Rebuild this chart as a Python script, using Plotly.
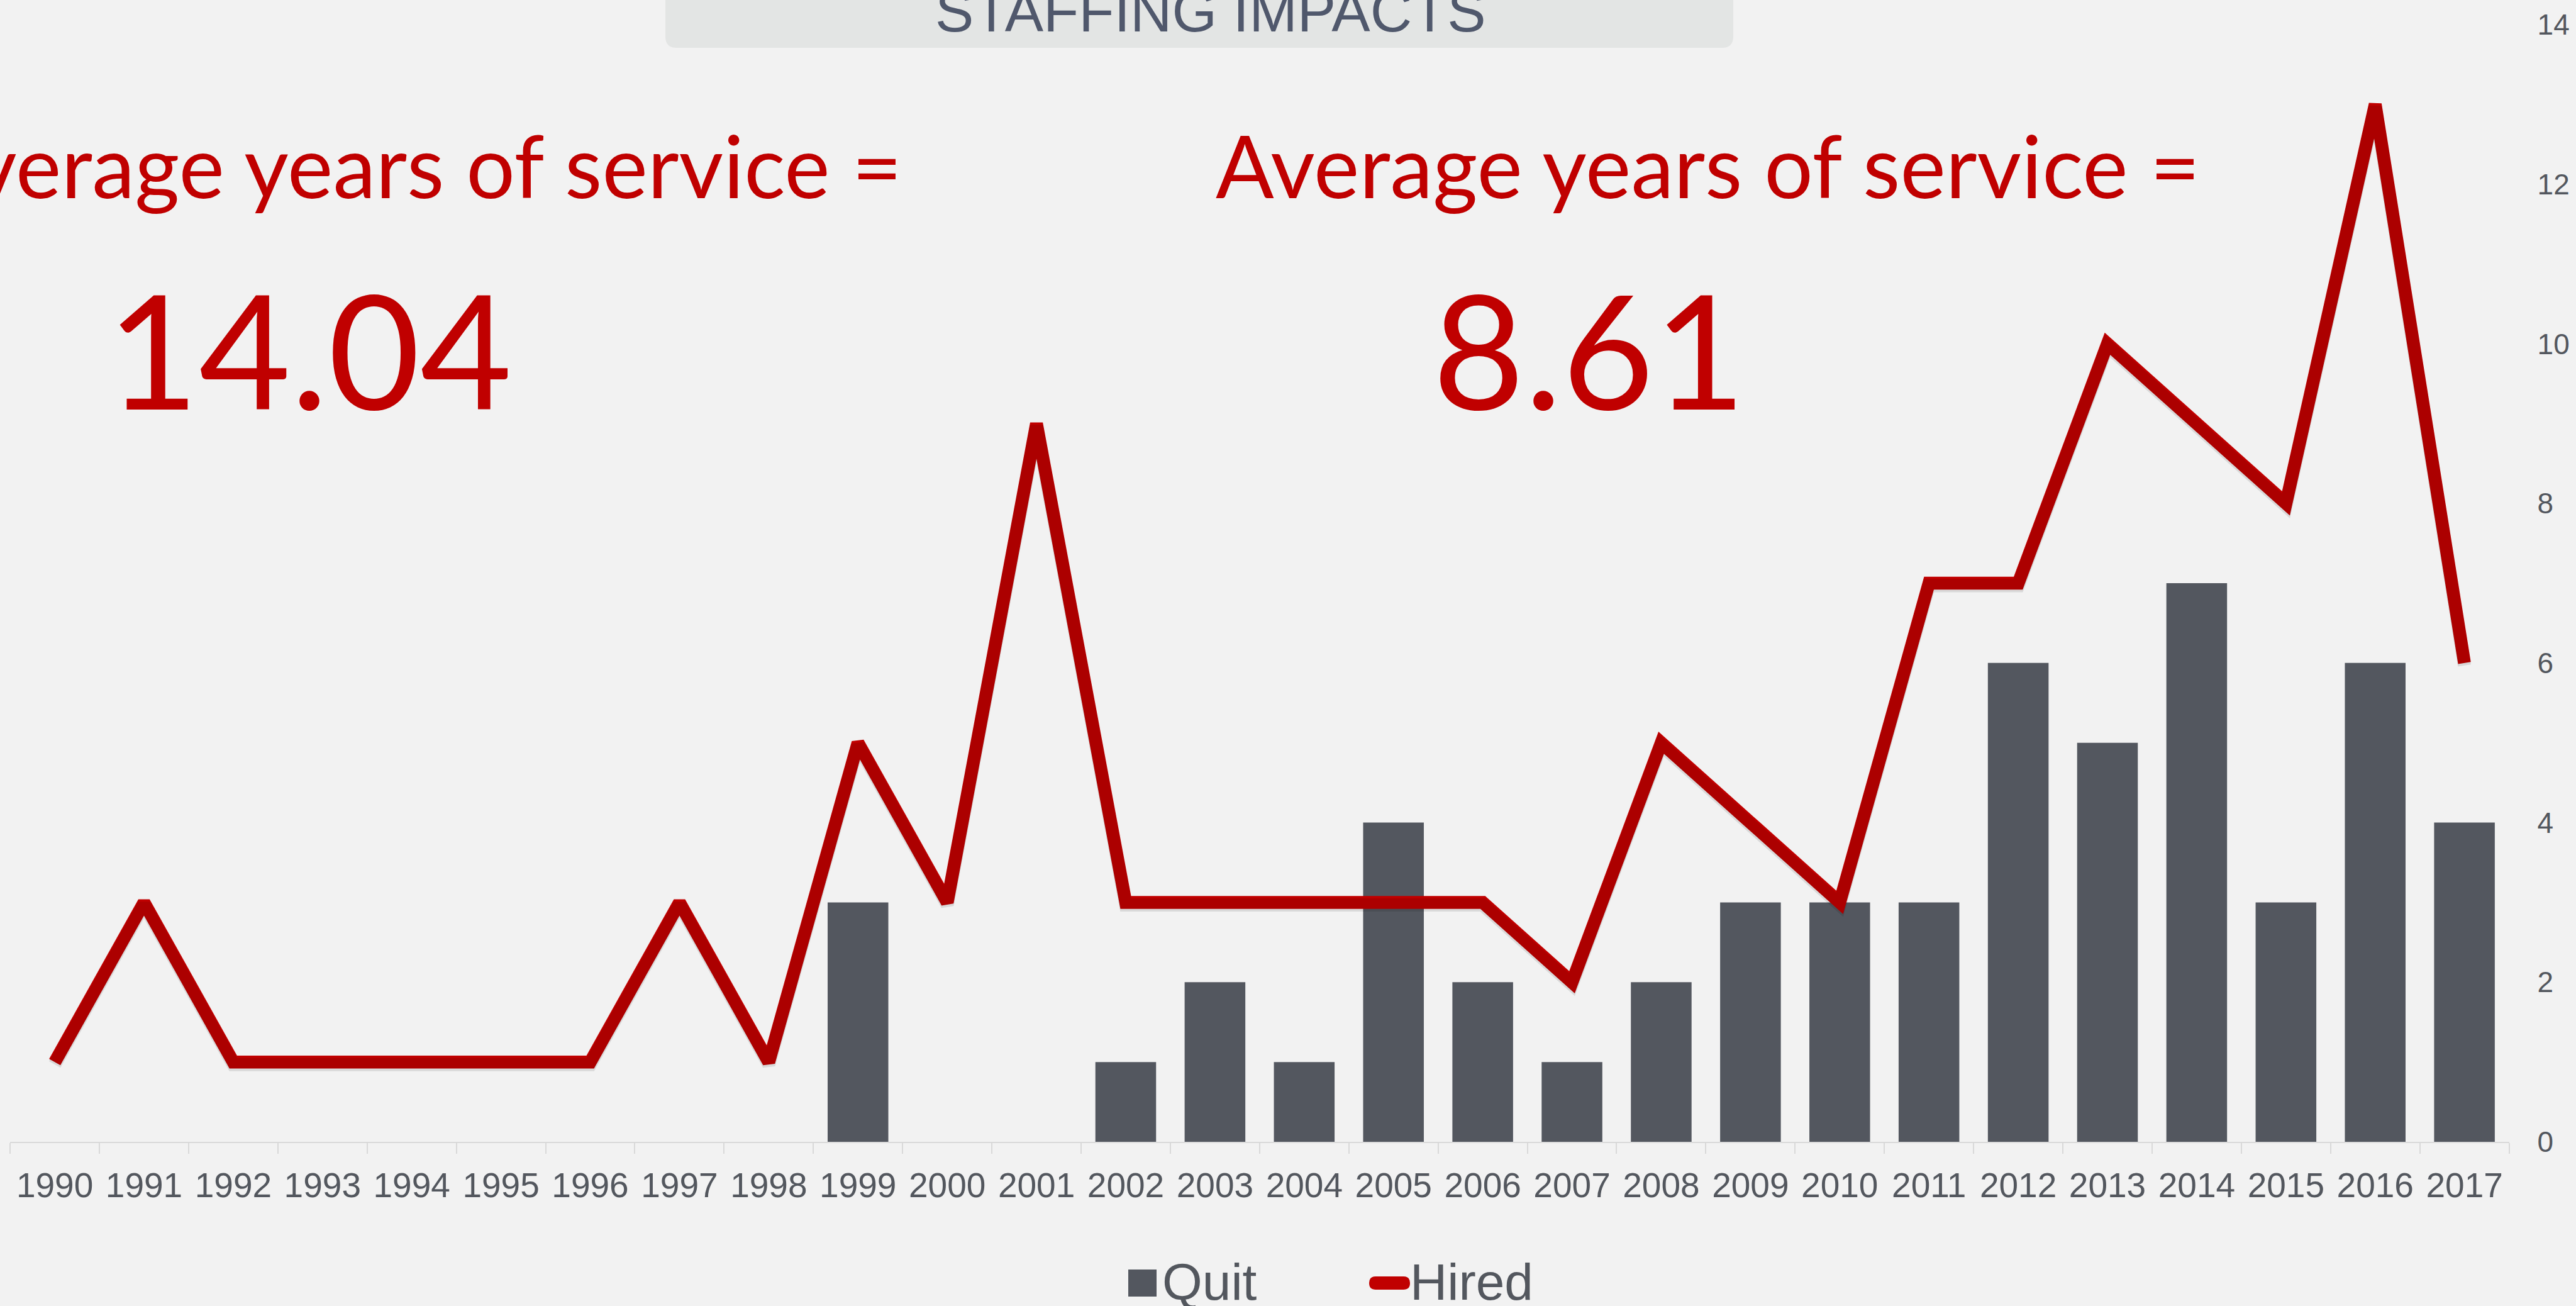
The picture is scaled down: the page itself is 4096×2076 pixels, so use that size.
import plotly.graph_objects as go

# Yearly staffing data
years = [str(y) for y in range(1990, 2018)]
quit_counts = [0, 0, 0, 0, 0, 0, 0, 0, 0, 3, 0, 0, 1, 2, 1, 4, 2, 1, 2, 3, 3, 3, 6, 5, 7, 3, 6, 4]
hired_counts = [1, 3, 1, 1, 1, 1, 1, 3, 1, 5, 3, 9, 3, 3, 3, 3, 3, 2, 5, 4, 3, 7, 7, 10, 9, 8, 13, 6]
y_ticks = [0, 2, 4, 6, 8, 10, 12, 14]

avg_before_label = "Average years of service ="
avg_before_value = "14.04"
avg_after_label = "Average years of service ="
avg_after_value = "8.61"
title_text = "STAFFING IMPACTS"

W, H = 4096, 2076
BG = "#f2f2f2"
BAR = "#53575f"
RED = "#c00000"
AXIS_TXT = "#53575e"
GRID = "#d9d9d9"
SANS = "Liberation Sans, Arial, sans-serif"
HUMANIST = "Lato, Open Sans, sans-serif"

Y_TOP, Y_BOT = 39, 1815          # plot area top / bottom in pixels
UNIT = (Y_BOT - Y_TOP) / 14.0     # pixels per unit on the value axis
SHADOW_SHIFT = 4 / UNIT           # drop shadow offset, in value units


def px(x):
    return x / W


def py(y):
    return 1 - y / H


fig = go.Figure()
fig.add_trace(go.Bar(x=years, y=quit_counts, name="Quit", marker=dict(color=BAR, line=dict(width=0)),
                     showlegend=False))
# soft drop shadow under the hiring line, drawn on a slightly shifted twin axis
fig.add_trace(go.Scatter(x=years, y=hired_counts, mode="lines", yaxis="y2", hoverinfo="skip",
                         line=dict(color="rgba(0,0,0,0.10)", width=21), showlegend=False))
fig.add_trace(go.Scatter(x=years, y=hired_counts, name="Hired", mode="lines",
                         line=dict(color=RED, width=20.5), showlegend=False))

shapes = []
annotations = []

# Rounded title tab hanging from the top edge
bx0, bx1, by1, r = 1058, 2756, 76, 18
path = (f"M {px(bx0)},{py(-20)} L {px(bx0)},{py(by1 - r)} "
        f"Q {px(bx0)},{py(by1)} {px(bx0 + r)},{py(by1)} "
        f"L {px(bx1 - r)},{py(by1)} Q {px(bx1)},{py(by1)} {px(bx1)},{py(by1 - r)} "
        f"L {px(bx1)},{py(-20)} Z")
shapes.append(dict(type="path", xref="paper", yref="paper", path=path,
                   fillcolor="#e3e5e4", line=dict(width=0), layer="below"))
annotations.append(dict(text=title_text, xref="paper", yref="paper", x=px(1925), y=py(18),
                        xanchor="center", yanchor="middle", showarrow=False,
                        font=dict(family=SANS, size=92, color="#50586c")))

# Average service callouts
annotations += [
    dict(text=avg_before_label, xref="paper", yref="paper", x=px(1436), y=py(262),
         xanchor="right", yanchor="middle", showarrow=False,
         font=dict(family=HUMANIST, size=137, color=RED)),
    dict(text=avg_before_value, xref="paper", yref="paper", x=px(492), y=py(553),
         xanchor="center", yanchor="middle", showarrow=False,
         font=dict(family=HUMANIST, size=252, color=RED)),
    dict(text=avg_after_label, xref="paper", yref="paper", x=px(1931), y=py(262),
         xanchor="left", yanchor="middle", showarrow=False,
         font=dict(family=HUMANIST, size=137, color=RED)),
    dict(text=avg_after_value, xref="paper", yref="paper", x=px(2527), y=py(553),
         xanchor="center", yanchor="middle", showarrow=False,
         font=dict(family=HUMANIST, size=252, color=RED)),
]

# Legend drawn at the bottom centre
shapes.append(dict(type="rect", xref="paper", yref="paper",
                   x0=px(1794), x1=px(1839), y0=py(2061), y1=py(2018),
                   fillcolor=BAR, line=dict(width=0)))
lr = 10.5
lx0, lx1, lyc = 2177, 2242, 2039.5
pill = (f"M {px(lx0 + lr)},{py(lyc - lr)} L {px(lx1 - lr)},{py(lyc - lr)} "
        f"Q {px(lx1)},{py(lyc - lr)} {px(lx1)},{py(lyc)} Q {px(lx1)},{py(lyc + lr)} {px(lx1 - lr)},{py(lyc + lr)} "
        f"L {px(lx0 + lr)},{py(lyc + lr)} Q {px(lx0)},{py(lyc + lr)} {px(lx0)},{py(lyc)} "
        f"Q {px(lx0)},{py(lyc - lr)} {px(lx0 + lr)},{py(lyc - lr)} Z")
shapes.append(dict(type="path", xref="paper", yref="paper", path=pill,
                   fillcolor=RED, line=dict(width=0)))
annotations += [
    dict(text="Quit", xref="paper", yref="paper", x=px(1846), y=py(2037),
         xanchor="left", yanchor="middle", showarrow=False,
         font=dict(family=SANS, size=82, color=AXIS_TXT)),
    dict(text="Hired", xref="paper", yref="paper", x=px(2240), y=py(2037),
         xanchor="left", yanchor="middle", showarrow=False,
         font=dict(family=SANS, size=82, color=AXIS_TXT)),
]

fig.update_layout(
    width=W, height=H,
    margin=dict(l=0, r=0, t=0, b=0, autoexpand=False),
    paper_bgcolor=BG, plot_bgcolor=BG,
    bargap=0.32,
    shapes=shapes, annotations=annotations,
    xaxis=dict(type="category", domain=[px(16.1), px(3989.6)], automargin=False,
               showline=True, linecolor=GRID, linewidth=2,
               ticks="outside", tickson="boundaries", ticklen=17, tickcolor=GRID, tickwidth=2,
               tickfont=dict(family=SANS, size=55, color=AXIS_TXT),
               ticklabelstandoff=20, showgrid=False, zeroline=False),
    yaxis=dict(side="right", range=[0, 14], tickvals=y_ticks, automargin=False,
               domain=[py(Y_BOT), py(Y_TOP)],
               showgrid=False, zeroline=False, showline=False, ticks="",
               tickfont=dict(family=SANS, size=46, color=AXIS_TXT),
               ticklabelstandoff=44),
    yaxis2=dict(overlaying="y", range=[SHADOW_SHIFT, 14 + SHADOW_SHIFT], visible=False,
                domain=[py(Y_BOT), py(Y_TOP)], automargin=False),
)

fig.write_html("out.html")
